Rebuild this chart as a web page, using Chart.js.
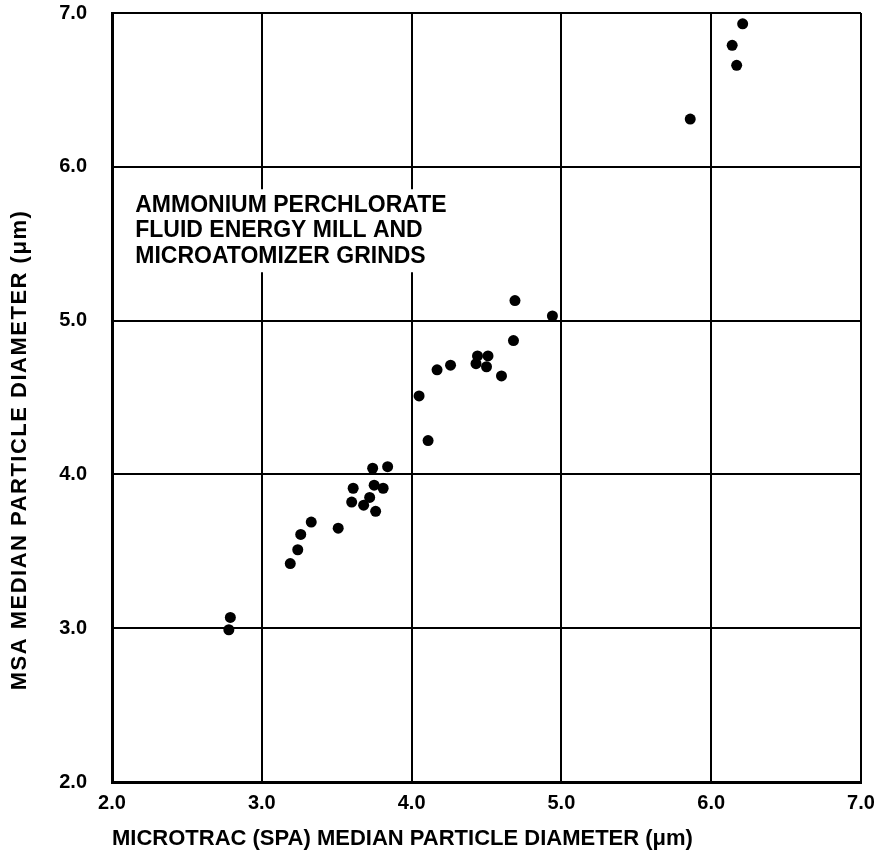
<!DOCTYPE html>
<html>
<head>
<meta charset="utf-8">
<script src="https://cdn.jsdelivr.net/npm/chart.js@4"></script>
<style>
  html, body { margin: 0; padding: 0; background: #fff; }
  #wrap { width: 880px; height: 856px; position: relative; }
</style>
</head>
<body>
<div id="wrap"><canvas id="msa-chart"></canvas></div>
<script>
"use strict";
// Microtrac (SPA) median diameter vs MSA median diameter, both in um
const microtrac = [2.79, 2.78, 3.19, 3.24, 3.26, 3.33, 3.51, 3.60, 3.61, 3.68, 3.72, 3.74, 3.75, 3.76, 3.81, 3.84,
    4.05, 4.11, 4.17, 4.26, 4.43, 4.44, 4.50, 4.51, 4.60, 4.68, 4.69, 4.94,
    5.86, 6.14, 6.17, 6.21];
const msa = [3.07, 2.99, 3.42, 3.51, 3.61, 3.69, 3.65, 3.82, 3.91, 3.80, 3.85, 4.04, 3.93, 3.76, 3.91, 4.05,
    4.51, 4.22, 4.68, 4.71, 4.72, 4.77, 4.70, 4.77, 4.64, 4.87, 5.13, 5.03,
    6.31, 6.79, 6.66, 6.93];
const tickValues = [2, 3, 4, 5, 6, 7];
const noteLines = ["AMMONIUM PERCHLORATE", "FLUID ENERGY MILL AND", "MICROATOMIZER GRINDS"];
const yTitle = "MSA MEDIAN PARTICLE DIAMETER (\u03bcm)";

const FONT = "'Liberation Sans', Arial, sans-serif";

// boxed note inside the plot and the rotated y title
const notePlugin = {
    id: 'note',
    afterDatasetsDraw(chart) {
        const ctx = chart.ctx;
        const x = chart.scales.x.getPixelForValue(2.155);
        const y = chart.scales.y.getPixelForValue(5.75);
        ctx.save();
        ctx.font = "bold 23px " + FONT;
        const w = Math.max(...noteLines.map(l => ctx.measureText(l).width));
        ctx.fillStyle = '#fff';
        ctx.fillRect(x - 4, y - 16, w + 8, 2 * 25.5 + 32);
        ctx.fillStyle = '#000';
        ctx.textBaseline = 'middle';
        noteLines.forEach((line, i) => ctx.fillText(line, x, y + i * 25.5));
        ctx.restore();

        ctx.save();
        ctx.translate(20, 450);
        ctx.rotate(-Math.PI / 2);
        ctx.font = "bold 22px " + FONT;
        ctx.letterSpacing = '1.5px';
        ctx.fillStyle = '#000';
        ctx.textAlign = 'center';
        ctx.textBaseline = 'middle';
        ctx.fillText(yTitle, 0, 0);
        ctx.restore();
    }
};

const points = microtrac.map((v, i) => ({ x: v, y: msa[i] }));

new Chart(document.getElementById('msa-chart'), {
    type: 'scatter',
    data: {
        datasets: [{
            data: points,
            pointRadius: 5.5,
            pointHoverRadius: 5.5,
            backgroundColor: '#000',
            borderColor: '#000',
            borderWidth: 0
        }]
    },
    options: {
        responsive: true,
        maintainAspectRatio: false,
        animation: false,
        events: [],
        layout: { padding: { top: 13, right: 19, left: 0, bottom: 0 } },
        plugins: { legend: { display: false }, tooltip: { enabled: false } },
        scales: {
            x: {
                type: 'linear',
                min: 2, max: 7,
                afterBuildTicks: (axis) => { axis.ticks = tickValues.map(v => ({ value: v })); },
                afterFit: (axis) => { axis.height = 74; axis.paddingLeft = 0; axis.paddingRight = 0; },
                grid: { color: '#000', lineWidth: 2, drawTicks: false },
                border: { color: '#000', width: 3 },
                ticks: {
                    color: '#000',
                    padding: 9,
                    font: { family: FONT, size: 20, weight: 'bold' },
                    callback: (v) => v.toFixed(1)
                },
                title: {
                    display: true,
                    align: 'start',
                    text: 'MICROTRAC (SPA) MEDIAN PARTICLE DIAMETER (\u03bcm)',
                    color: '#000',
                    padding: { top: 6 },
                    font: { family: FONT, size: 22, weight: 'bold' }
                }
            },
            y: {
                type: 'linear',
                min: 2, max: 7,
                afterBuildTicks: (axis) => { axis.ticks = tickValues.map(v => ({ value: v })); },
                afterFit: (axis) => { axis.width = 112; axis.paddingTop = 0; axis.paddingBottom = 0; },
                grid: { color: '#000', lineWidth: 2, drawTicks: false },
                border: { color: '#000', width: 3 },
                ticks: {
                    color: '#000',
                    padding: 25,
                    font: { family: FONT, size: 20, weight: 'bold' },
                    callback: (v) => v.toFixed(1)
                },
                title: { display: false }
            }
        }
    },
    plugins: [notePlugin]
});
</script>
</body>
</html>
